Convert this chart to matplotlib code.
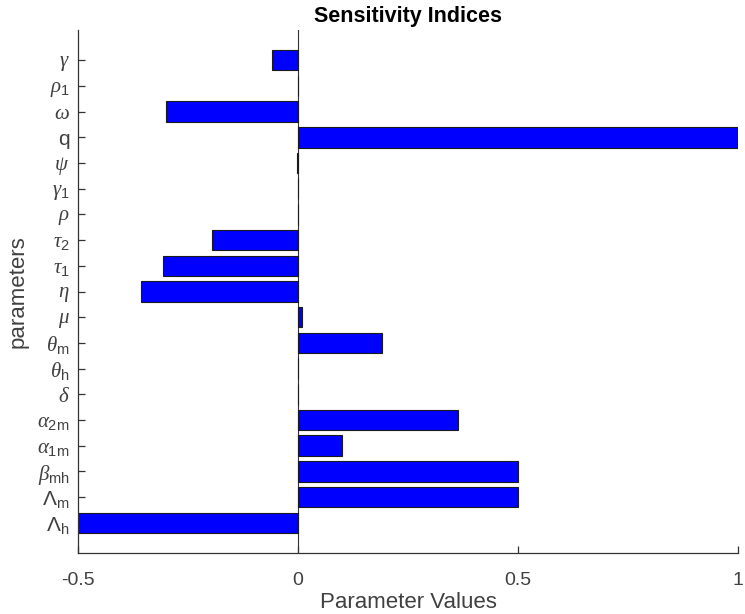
import numpy as np
import matplotlib.pyplot as plt

plt.rcParams['font.family'] = ['Liberation Sans', 'DejaVu Sans']
plt.rcParams['mathtext.fontset'] = 'custom'
plt.rcParams['mathtext.rm'] = 'Liberation Sans'
plt.rcParams['mathtext.sf'] = 'Liberation Sans'
plt.rcParams['mathtext.it'] = 'Liberation Serif:italic'

# parameters, bottom to top
params = [r'$\Lambda_{\mathsf{h}}$', r'$\Lambda_{\mathsf{m}}$', r'$\beta_{\mathsf{mh}}$',
          r'$\alpha_{\mathsf{1m}}$', r'$\alpha_{\mathsf{2m}}$', r'$\delta$',
          r'$\theta_{\mathsf{h}}$', r'$\theta_{\mathsf{m}}$', r'$\mu$', r'$\eta$',
          r'$\tau_{\mathsf{1}}$', r'$\tau_{\mathsf{2}}$', r'$\rho$', r'$\gamma_{\mathsf{1}}$',
          r'$\psi$', 'q', r'$\omega$', r'$\rho_{\mathsf{1}}$', r'$\gamma$']
indices = [-0.5, 0.5, 0.5, 0.10, 0.364, -0.001, -0.001, 0.19, 0.009, -0.357,
           -0.306, -0.195, -0.001, -0.001, -0.003, 1.0, -0.30, -0.001, -0.06]

fig = plt.figure(figsize=(7.45, 6.14), dpi=100)
ax = fig.add_axes([78 / 745, 61 / 614, 660 / 745, 523 / 614])

pos = np.arange(1, len(params) + 1)
ax.barh(pos, indices, height=0.8, color='#0000ff', edgecolor='#1a1a1a', linewidth=0.8, zorder=2)
ax.axvline(0, color='#333333', linewidth=0.8, zorder=1)

ax.set_xlim(-0.5, 1.0)
ax.set_ylim(-0.17, 20.17)
ax.set_xticks([-0.5, 0, 0.5, 1])
ax.set_xticklabels(['-0.5', '0', '0.5', '1'])
ax.set_yticks(pos)
ax.set_yticklabels(params)

for side in ['top', 'right']:
    ax.spines[side].set_visible(False)
for side in ['left', 'bottom']:
    ax.spines[side].set_color('#333333')
    ax.spines[side].set_linewidth(0.9)

ax.tick_params(direction='in', length=5, width=0.9, colors='#333333', labelcolor='#404040',
               labelsize=14)
ax.tick_params(axis='y', labelsize=15, pad=6)
ax.tick_params(axis='x', pad=14)

ax.set_xlabel('Parameter Values', fontsize=16, color='#404040', labelpad=2)
ax.set_ylabel('parameters', fontsize=16, color='#404040', labelpad=6)
ax.set_title('Sensitivity Indices', fontsize=15.5, fontweight='bold', pad=6)

fig.savefig('out.png', dpi=100)
